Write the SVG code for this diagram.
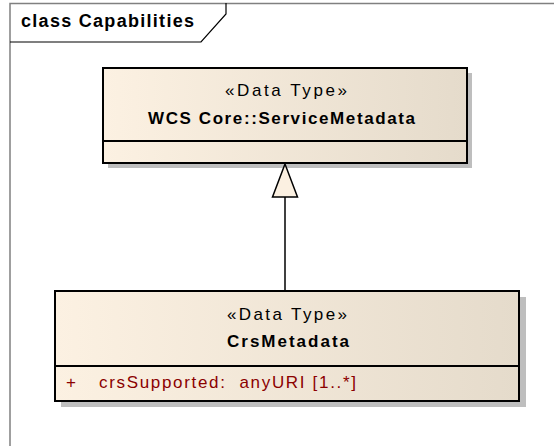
<svg xmlns="http://www.w3.org/2000/svg" width="554" height="446" viewBox="0 0 554 446">
<defs>
<linearGradient id="fillg" x1="0" y1="0" x2="1" y2="0">
<stop offset="0" stop-color="#FCF1E2"/>
<stop offset="1" stop-color="#E5DBCB"/>
</linearGradient>
<style>
.box{fill:url(#fillg);stroke:#000;stroke-width:2}
.shadow{fill:#BEBEBE}
.sep{stroke:#000;stroke-width:2}
.st{font-family:"Liberation Sans",Arial,sans-serif;font-size:17px;fill:#000}
.nm{font-family:"Liberation Sans",Arial,sans-serif;font-size:17px;font-weight:bold;fill:#000}
.attr{font-family:"Liberation Sans",Arial,sans-serif;font-size:17px;fill:#8B0000}
.frame{fill:none;stroke:#808080;stroke-width:1.5}
</style>
</defs>
<rect width="554" height="446" fill="#fff"/>
<g id="frame">
<path class="frame" d="M10 446 V3.5 H554"/>
<path d="M10 42 H201 L226 14 V3" fill="none" stroke="#000" stroke-width="1.2"/>
<text x="21" y="27" font-family="Liberation Sans,Arial,sans-serif" font-size="18" font-weight="bold" textLength="173" lengthAdjust="spacing">class Capabilities</text>
</g>
<g id="ServiceMetadata">
<rect class="shadow" x="108" y="73" width="364" height="95"/>
<rect class="box" x="103" y="68" width="364" height="95"/>
<line class="sep" x1="103" y1="141" x2="467" y2="141"/>
<text class="st" x="225" y="96" textLength="122" lengthAdjust="spacing">«Data Type»</text>
<text class="nm" x="148" y="124" textLength="267" lengthAdjust="spacing">WCS Core::ServiceMetadata</text>
</g>
<g id="CrsMetadata">
<rect class="shadow" x="61" y="297" width="465" height="110"/>
<rect class="box" x="55" y="291" width="464" height="110"/>
<line class="sep" x1="55" y1="366" x2="519" y2="366"/>
<text class="st" x="227" y="320" textLength="120" lengthAdjust="spacing">«Data Type»</text>
<text class="nm" x="227" y="347" textLength="122" lengthAdjust="spacing">CrsMetadata</text>
<text class="attr" x="66" y="388">+</text>
<text class="attr" x="99" y="388" textLength="257" lengthAdjust="spacing" xml:space="preserve">crsSupported:  anyURI [1..*]</text>
</g>
<g id="connectors">
<line x1="285" y1="291" x2="285" y2="197" stroke="#000" stroke-width="1.5"/>
<polygon points="285,164 272.5,197 297.5,197" fill="#FBF0E1" stroke="#000" stroke-width="1.5"/>
</g>
</svg>
